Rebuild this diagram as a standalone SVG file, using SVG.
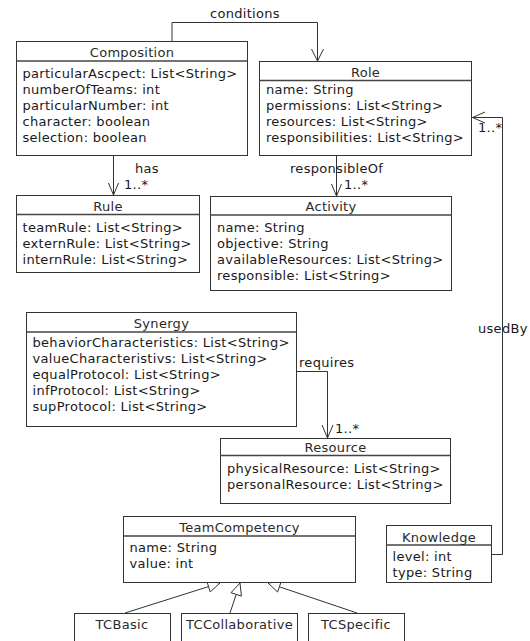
<svg xmlns="http://www.w3.org/2000/svg" width="530" height="641" viewBox="0 0 530 641">
  <style>
    .box { fill: #ffffff; stroke: #333333; stroke-width: 1; }
    .sep { stroke: #444444; stroke-width: 1.5; }
    .title { font-family: "DejaVu Sans", "Liberation Sans", sans-serif; font-size: 13px; letter-spacing: 0.3px; fill: #2a2a2a; text-anchor: middle; }
    .attr { font-family: "DejaVu Sans", "Liberation Sans", sans-serif; font-size: 13px; letter-spacing: 0.3px; fill: #1a1a1a; }
    .lbl { font-family: "DejaVu Sans", "Liberation Sans", sans-serif; font-size: 13px; letter-spacing: 0.3px; fill: #1a1a1a; }
    .edge { fill: none; stroke: #333333; stroke-width: 1; }
    .head { fill: none; stroke: #333333; stroke-width: 1; }
    .tri { fill: #ffffff; stroke: #333333; stroke-width: 1; }
  </style>
  <rect width="530" height="641" fill="#ffffff"/>

  <!-- associations and generalizations -->
  <g id="connectors">
    <!-- Composition -> Role : conditions -->
    <polyline class="edge" points="172,41 172,22.5 317.5,22.5 317.5,61"/>
    <polyline class="head" points="311.5,49 317.5,61 323.5,49"/>
    <text class="lbl" x="210" y="18">conditions</text>

    <!-- Composition -> Rule : has -->
    <line class="edge" x1="113.5" y1="155" x2="113.5" y2="195"/>
    <polyline class="head" points="108.5,183 113.5,195 118.5,183"/>
    <text class="lbl" x="135" y="173">has</text>
    <text class="lbl" x="124" y="189">1..*</text>

    <!-- Role -> Activity : responsibleOf -->
    <line class="edge" x1="336.5" y1="155" x2="336.5" y2="196"/>
    <polyline class="head" points="331.5,184 336.5,196 341.5,184"/>
    <text class="lbl" x="290" y="173">responsibleOf</text>
    <text class="lbl" x="344" y="189">1..*</text>

    <!-- Synergy -> Resource : requires -->
    <polyline class="edge" points="297,371.5 327.5,371.5 327.5,438"/>
    <polyline class="head" points="322,425 327.5,438 333,425"/>
    <text class="lbl" x="299" y="367">requires</text>
    <text class="lbl" x="335" y="433">1..*</text>

    <!-- Knowledge -> Role : usedBy -->
    <polyline class="edge" points="492,554.5 502.5,554.5 502.5,117.5 472,117.5"/>
    <polyline class="head" points="485,112 472.5,117.5 485,123"/>
    <text class="lbl" x="478" y="333">usedBy</text>
    <text class="lbl" x="478" y="132">1..*</text>

    <!-- TCBasic / TCCollaborative / TCSpecific -> TeamCompetency -->
    <line class="edge" x1="125" y1="613" x2="208.5" y2="586.6"/>
    <polygon class="tri" points="220,583 210.2,591.9 206.9,581.4"/>
    <line class="edge" x1="230" y1="613" x2="236.2" y2="594.4"/>
    <polygon class="tri" points="240,583 241.4,596.1 231,592.7"/>
    <line class="edge" x1="357" y1="613" x2="279.4" y2="586.8"/>
    <polygon class="tri" points="268,583 277.6,592 281.2,581.6"/>
  </g>

  <g id="composition">
    <rect class="box" x="16.5" y="41.5" width="231" height="114"/>
    <line class="sep" x1="16.5" y1="61" x2="247.5" y2="61"/>
    <text class="title" x="132" y="57">Composition</text>
    <text class="attr" x="22.5" y="78">particularAscpect: List&lt;String&gt;</text>
    <text class="attr" x="22.5" y="94">numberOfTeams: int</text>
    <text class="attr" x="22.5" y="110">particularNumber: int</text>
    <text class="attr" x="22.5" y="126">character: boolean</text>
    <text class="attr" x="22.5" y="142">selection: boolean</text>
  </g>

  <g id="role">
    <rect class="box" x="259.5" y="61.5" width="212" height="94"/>
    <line class="sep" x1="259.5" y1="80.5" x2="471.5" y2="80.5"/>
    <text class="title" x="365.5" y="77">Role</text>
    <text class="attr" x="266" y="94">name: String</text>
    <text class="attr" x="266" y="110">permissions: List&lt;String&gt;</text>
    <text class="attr" x="266" y="126">resources: List&lt;String&gt;</text>
    <text class="attr" x="266" y="142">responsibilities: List&lt;String&gt;</text>
  </g>

  <g id="rule">
    <rect class="box" x="16.5" y="195.5" width="183" height="77"/>
    <line class="sep" x1="16.5" y1="214.5" x2="199.5" y2="214.5"/>
    <text class="title" x="108" y="211">Rule</text>
    <text class="attr" x="22.5" y="232">teamRule: List&lt;String&gt;</text>
    <text class="attr" x="22.5" y="248">externRule: List&lt;String&gt;</text>
    <text class="attr" x="22.5" y="264">internRule: List&lt;String&gt;</text>
  </g>

  <g id="activity">
    <rect class="box" x="210.5" y="196.5" width="241" height="94"/>
    <line class="sep" x1="210.5" y1="215" x2="451.5" y2="215"/>
    <text class="title" x="331" y="211">Activity</text>
    <text class="attr" x="217" y="232">name: String</text>
    <text class="attr" x="217" y="248">objective: String</text>
    <text class="attr" x="217" y="264">availableResources: List&lt;String&gt;</text>
    <text class="attr" x="217" y="280">responsible: List&lt;String&gt;</text>
  </g>

  <g id="synergy">
    <rect class="box" x="26.5" y="312.5" width="270" height="114"/>
    <line class="sep" x1="26.5" y1="332" x2="296.5" y2="332"/>
    <text class="title" x="161.5" y="328">Synergy</text>
    <text class="attr" x="32.5" y="347">behaviorCharacteristics: List&lt;String&gt;</text>
    <text class="attr" x="32.5" y="363">valueCharacteristivs: List&lt;String&gt;</text>
    <text class="attr" x="32.5" y="379">equalProtocol: List&lt;String&gt;</text>
    <text class="attr" x="32.5" y="395">infProtocol: List&lt;String&gt;</text>
    <text class="attr" x="32.5" y="411">supProtocol: List&lt;String&gt;</text>
  </g>

  <g id="resource">
    <rect class="box" x="220.5" y="438.5" width="230" height="65"/>
    <line class="sep" x1="220.5" y1="455.5" x2="450.5" y2="455.5"/>
    <text class="title" x="335.5" y="452">Resource</text>
    <text class="attr" x="227" y="473">physicalResource: List&lt;String&gt;</text>
    <text class="attr" x="227" y="489">personalResource: List&lt;String&gt;</text>
  </g>

  <g id="teamCompetency">
    <rect class="box" x="123.5" y="516.5" width="232" height="66"/>
    <line class="sep" x1="123.5" y1="536" x2="355.5" y2="536"/>
    <text class="title" x="239.5" y="532">TeamCompetency</text>
    <text class="attr" x="129.5" y="552">name: String</text>
    <text class="attr" x="129.5" y="568">value: int</text>
  </g>

  <g id="knowledge">
    <rect class="box" x="386.5" y="525.5" width="105" height="57"/>
    <line class="sep" x1="386.5" y1="545" x2="491.5" y2="545"/>
    <text class="title" x="439" y="542">Knowledge</text>
    <text class="attr" x="392.5" y="561">level: int</text>
    <text class="attr" x="392.5" y="577">type: String</text>
  </g>

  <g id="tcBasic">
    <rect class="box" x="74.5" y="613.5" width="96" height="40"/>
    <text class="title" x="122" y="629">TCBasic</text>
  </g>

  <g id="tcCollaborative">
    <rect class="box" x="181.5" y="613.5" width="116" height="40"/>
    <text class="title" x="239.5" y="629">TCCollaborative</text>
  </g>

  <g id="tcSpecific">
    <rect class="box" x="308.5" y="613.5" width="96" height="40"/>
    <text class="title" x="356" y="629">TCSpecific</text>
  </g>
</svg>
